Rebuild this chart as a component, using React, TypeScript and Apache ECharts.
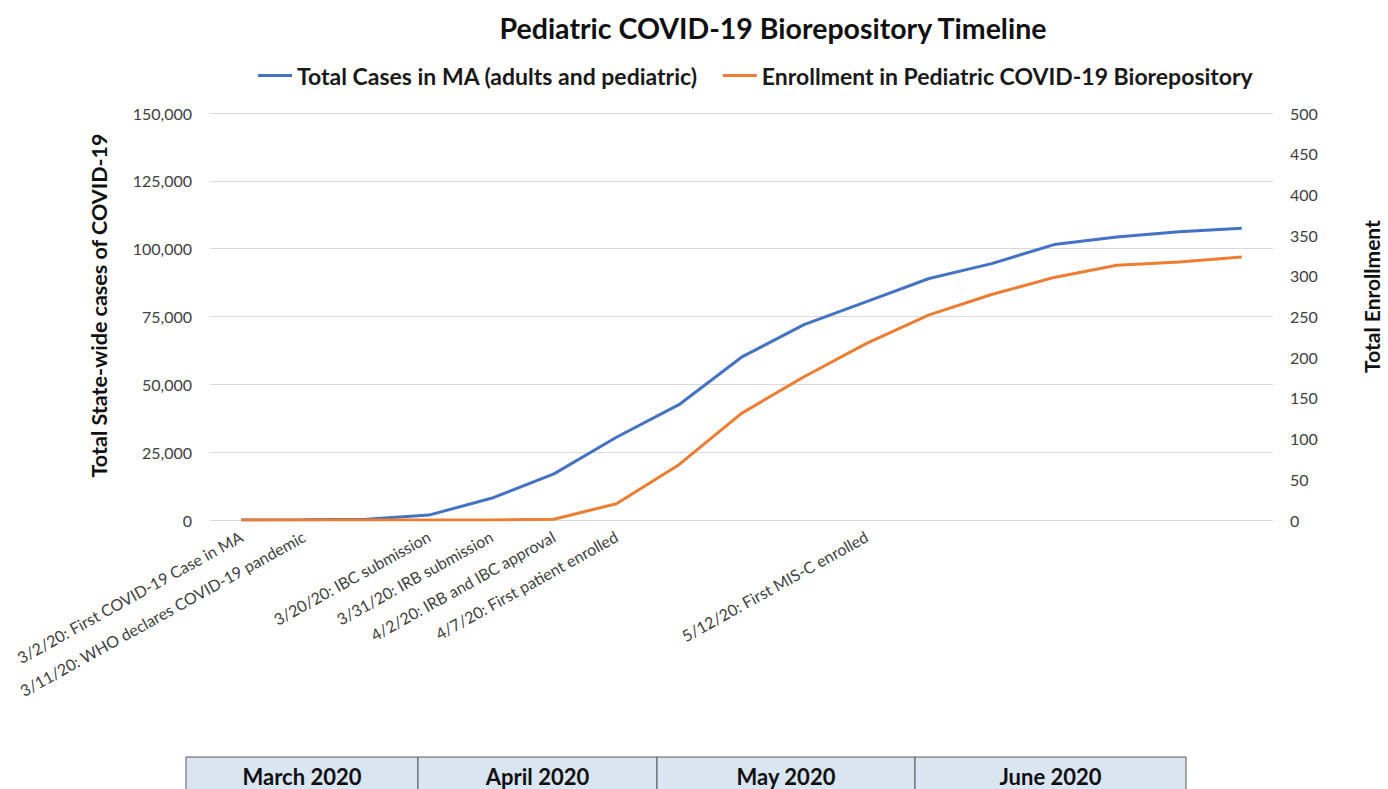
import React, { useEffect, useRef } from "react";
import * as echarts from "echarts";

const categories: string[] = [
  "3/2/20: First COVID-19 Case in MA",
  "3/11/20: WHO declares COVID-19 pandemic",
  "",
  "3/20/20: IBC submission",
  "3/31/20: IRB submission",
  "4/2/20: IRB and IBC approval",
  "4/7/20: First patient enrolled",
  "",
  "",
  "",
  "5/12/20: First MIS-C enrolled",
  "",
  "",
  "",
  "",
  "",
  "",
];

const totalCases: number[] = [
  1, 100, 300, 1800, 8000, 17000, 30500, 42500, 60000, 72000, 80500, 89000,
  94500, 101500, 104300, 106200, 107500,
];

const enrollment: number[] = [
  0, 0, 0, 0, 0, 1, 20, 68, 131, 176, 217, 252, 277, 298, 313, 317, 323,
];

const months: string[] = ["March 2020", "April 2020", "May 2020", "June 2020"];
const monthEdges: number[] = [186, 418, 657, 915, 1186];

const FONT = "Lato, 'Open Sans', sans-serif";

export default function App() {
  const ref = useRef<HTMLDivElement>(null);

  useEffect(() => {
    if (!ref.current) return;
    const chart = echarts.init(ref.current, undefined, { renderer: "svg" });

    const tableTop = 757;
    const tableH = 40;
    const graphics: any[] = [];
    months.forEach((m, i) => {
      const x0 = monthEdges[i];
      const x1 = monthEdges[i + 1];
      graphics.push({
        type: "rect",
        shape: { x: x0, y: tableTop, width: x1 - x0, height: tableH },
        style: { fill: "#dae5f2", stroke: "#595959", lineWidth: 1 },
        z: 10,
      });
      graphics.push({
        type: "text",
        x: (x0 + x1) / 2,
        y: tableTop + 19,
        style: {
          text: m,
          fill: "#111",
          font: `bold 22px ${FONT}`,
          align: "center",
          verticalAlign: "middle",
        },
        z: 11,
      });
    });

    chart.setOption({
      animation: false,
      backgroundColor: "#ffffff",
      textStyle: { fontFamily: FONT },
      title: {
        text: "Pediatric COVID-19 Biorepository Timeline",
        left: 768,
        textAlign: "center",
        top: 8,
        textStyle: {
          fontSize: 28.5,
          fontWeight: "bold",
          color: "#111",
          fontFamily: FONT,
        },
      },
      legend: {
        top: 59,
        left: 253,
        itemWidth: 34,
        itemHeight: 3,
        itemGap: 25,
        icon: "rect",
        textStyle: {
          fontSize: 23,
          fontWeight: "bold",
          color: "#1a1a1a",
          fontFamily: FONT,
        },
        data: [
          "Total Cases in MA (adults and pediatric)",
          "Enrollment in Pediatric COVID-19 Biorepository",
        ],
      },
      grid: {
        left: 210,
        right: 115,
        top: 113,
        bottom: 269,
        containLabel: false,
        outerBoundsMode: "none",
      },
      xAxis: {
        type: "category",
        data: categories,
        boundaryGap: true,
        axisLine: { show: false },
        axisTick: { show: false },
        axisLabel: {
          interval: 0,
          rotate: 29,
          fontSize: 16,
          color: "#404040",
          margin: 15,
          fontFamily: FONT,
        },
      },
      yAxis: [
        {
          type: "value",
          min: 0,
          max: 150000,
          interval: 25000,
          position: "left",
          name: "Total State-wide cases of COVID-19",
          nameLocation: "middle",
          nameRotate: 90,
          nameGap: 100,
          nameTextStyle: {
            fontSize: 21.5,
            fontWeight: "bold",
            color: "#111",
            fontFamily: FONT,
            padding: [0, 0, 0, 22],
          },
          axisLine: { show: false },
          axisTick: { show: false },
          axisLabel: {
            fontSize: 16,
            color: "#404040",
            margin: 18,
            fontFamily: FONT,
            formatter: (v: number) => v.toLocaleString("en-US"),
          },
          splitLine: { lineStyle: { color: "#d9d9d9", width: 1 } },
        },
        {
          type: "value",
          min: 0,
          max: 500,
          interval: 50,
          position: "right",
          name: "Total Enrollment",
          nameLocation: "middle",
          nameRotate: 90,
          nameGap: 88,
          nameTextStyle: {
            fontSize: 21,
            fontWeight: "bold",
            color: "#111",
            fontFamily: FONT,
            padding: [0, 0, 0, 40],
          },
          axisLine: { show: false },
          axisTick: { show: false },
          axisLabel: {
            fontSize: 16,
            color: "#404040",
            margin: 17,
            fontFamily: FONT,
          },
          splitLine: { show: false },
        },
      ],
      series: [
        {
          name: "Total Cases in MA (adults and pediatric)",
          type: "line",
          yAxisIndex: 0,
          data: totalCases,
          showSymbol: false,
          symbol: "none",
          lineStyle: { color: "#4472c4", width: 3 },
          itemStyle: { color: "#4472c4" },
        },
        {
          name: "Enrollment in Pediatric COVID-19 Biorepository",
          type: "line",
          yAxisIndex: 1,
          data: enrollment,
          showSymbol: false,
          symbol: "none",
          lineStyle: { color: "#ed7d31", width: 3 },
          itemStyle: { color: "#ed7d31" },
        },
      ],
      graphic: graphics,
    });

    return () => chart.dispose();
  }, []);

  return (
    <div
      ref={ref}
      style={{ position: "fixed", left: 0, top: 0, width: 1388, height: 789 }}
    />
  );
}
